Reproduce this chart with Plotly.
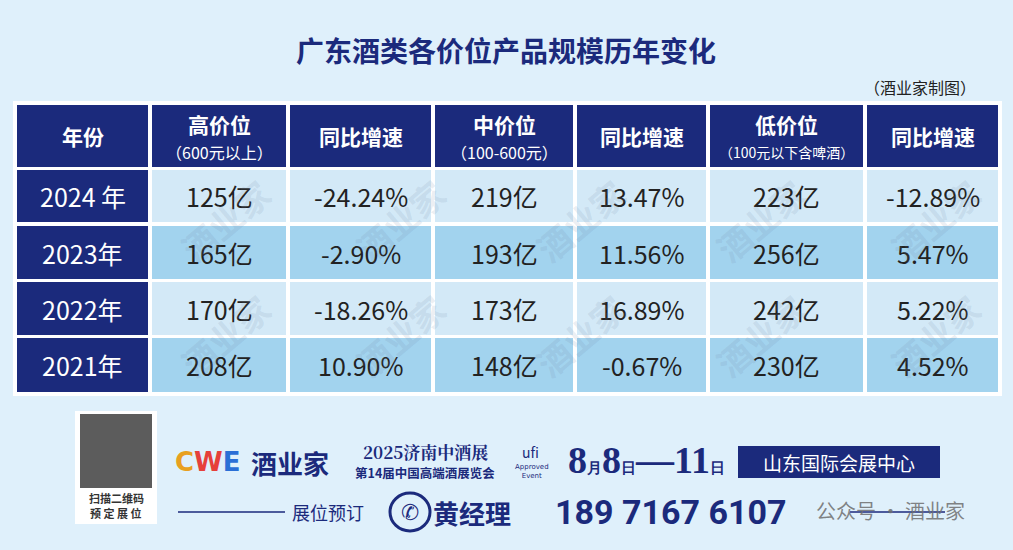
import plotly.graph_objects as go

title = "广东酒类各价位产品规模历年变化"
source = "（酒业家制图）"
headers = ["年份", "高价位", "同比增速", "中价位", "同比增速", "低价位", "同比增速"]
subheaders = ["", "（600元以上）", "", "（100-600元）", "", "（100元以下含啤酒）", ""]
years = ["2024 年", "2023年", "2022年", "2021年"]
high = ["125亿", "165亿", "170亿", "208亿"]
high_g = ["-24.24%", "-2.90%", "-18.26%", "10.90%"]
mid = ["219亿", "193亿", "173亿", "148亿"]
mid_g = ["13.47%", "11.56%", "16.89%", "-0.67%"]
low = ["223亿", "256亿", "242亿", "230亿"]
low_g = ["-12.89%", "5.47%", "5.22%", "4.52%"]

NAVY = "#1b2a7c"
BG = "#dff0fb"
LIGHT = "#d3e9f7"
DARK = "#a2d3ee"
FONT = "Noto Sans CJK SC"

col_edges = [(17, 148), (152, 286), (290, 431), (435, 573), (577, 706), (710, 863), (867, 998)]
row_edges = [(105, 167), (170, 222), (226, 279), (282, 335), (338, 392)]

shapes = []
ann = []
shapes.append(dict(type="rect", x0=13, x1=1002, y0=101, y1=396, fillcolor="white", line_width=0, layer="below"))
for ci, (x0, x1) in enumerate(col_edges):
    for ri, (y0, y1) in enumerate(row_edges):
        if ri == 0 or ci == 0:
            fill = NAVY
        else:
            fill = LIGHT if ri % 2 == 1 else DARK
        shapes.append(dict(type="rect", x0=x0, x1=x1, y0=y0, y1=y1, fillcolor=fill, line_width=0, layer="below"))

for ci, (x0, x1) in enumerate(col_edges):
    xc = (x0 + x1) / 2
    if subheaders[ci]:
        ann.append(dict(x=xc, y=124, text=f"<b>{headers[ci]}</b>", font=dict(size=21, color="white", family=FONT), showarrow=False))
        ann.append(dict(x=xc, y=152, text=subheaders[ci], font=dict(size=16 if ci != 5 else 14, color="white", family=FONT), showarrow=False))
    else:
        ann.append(dict(x=xc, y=136, text=f"<b>{headers[ci]}</b>", font=dict(size=21, color="white", family=FONT), showarrow=False))

cols = [years, high, high_g, mid, mid_g, low, low_g]
for ci, col in enumerate(cols):
    x0, x1 = col_edges[ci]
    for ri, val in enumerate(col):
        y0, y1 = row_edges[ri + 1]
        ann.append(dict(x=(x0 + x1) / 2, y=(y0 + y1) / 2, text=val, showarrow=False,
                        font=dict(size=25, color="white" if ci == 0 else "#222222", family=FONT)))

for (wx, wy) in [(225, 220), (400, 220), (580, 220), (760, 220), (935, 220), (225, 335), (400, 335), (580, 335), (760, 335), (935, 335)]:
    ann.append(dict(x=wx, y=wy, text="<b>酒业家</b>", textangle=-40, showarrow=False,
                    font=dict(size=34, color="rgba(110,130,160,0.15)", family=FONT)))

ann.append(dict(x=506, y=50, text=f"<b>{title}</b>", showarrow=False, font=dict(size=28, color=NAVY, family=FONT)))
ann.append(dict(x=978, y=87, text=source, xanchor="right", showarrow=False, font=dict(size=16, color="#222", family=FONT)))

# footer
shapes.append(dict(type="rect", x0=75, x1=157, y0=411, y1=524, fillcolor="white", line_width=0))
shapes.append(dict(type="rect", x0=80, x1=152, y0=414, y1=488, fillcolor="#333", line_width=0, opacity=0.8))
ann.append(dict(x=116, y=498, text="<b>扫描二维码</b>", showarrow=False, font=dict(size=11, color="#333", family=FONT)))
ann.append(dict(x=116, y=513, text="<b>预 定 展 位</b>", showarrow=False, font=dict(size=11, color="#333", family=FONT)))
ann.append(dict(x=208, y=462, text="<b>C<span style='color:#e6403a'>W</span><span style='color:#2a6fd6'>E</span></b>", showarrow=False, font=dict(size=26, color="#e8a020", family="DejaVu Sans")))
ann.append(dict(x=290, y=462, text="<b>酒业家</b>", showarrow=False, font=dict(size=26, color=NAVY, family=FONT)))
ann.append(dict(x=425, y=451, text="<b>2025济南中酒展</b>", showarrow=False, font=dict(size=17, color=NAVY, family="Noto Serif CJK SC, " + FONT)))
ann.append(dict(x=425, y=472, text="<b>第14届中国高端酒展览会</b>", showarrow=False, font=dict(size=12.5, color=NAVY, family=FONT)))
ann.append(dict(x=530, y=452, text="ufi", showarrow=False, font=dict(size=14, color=NAVY, family=FONT)))
ann.append(dict(x=532, y=471, text="Approved<br>Event", showarrow=False, font=dict(size=7, color=NAVY, family="DejaVu Sans")))
ann.append(dict(x=646, y=460, text="<b>8<span style='font-size:15px'>月</span>8<span style='font-size:15px'>日</span>—11<span style='font-size:15px'>日</span></b>", showarrow=False, font=dict(size=38, color=NAVY, family="Liberation Serif")))
shapes.append(dict(type="rect", x0=738, x1=940, y0=446, y1=478, fillcolor=NAVY, line_width=0))
ann.append(dict(x=839, y=462, text="山东国际会展中心", showarrow=False, font=dict(size=19, color="white", family=FONT)))
shapes.append(dict(type="line", x0=178, x1=285, y0=512, y1=512, line=dict(color=NAVY, width=1.5)))
ann.append(dict(x=328, y=512, text="展位预订", showarrow=False, font=dict(size=18, color=NAVY, family=FONT)))
shapes.append(dict(type="circle", x0=390, x1=430, y0=493, y1=531, line=dict(color=NAVY, width=3)))
ann.append(dict(x=410, y=512, text="✆", showarrow=False, font=dict(size=22, color=NAVY, family="DejaVu Sans")))
ann.append(dict(x=472, y=512, text="<b>黄经理</b>", showarrow=False, font=dict(size=26, color=NAVY, family=FONT)))
ann.append(dict(x=670, y=512, text="<b>189 7167 6107</b>", showarrow=False, font=dict(size=34, color=NAVY, family="Roboto")))
shapes.append(dict(type="line", x0=850, x1=945, y0=512, y1=512, line=dict(color=NAVY, width=1.5)))
ann.append(dict(x=890, y=510, text="公众号 · 酒业家", showarrow=False, font=dict(size=20, color="rgba(110,110,110,0.85)", family=FONT)))

fig = go.Figure()
fig.update_layout(width=1013, height=550, margin=dict(l=0, r=0, t=0, b=0),
                  paper_bgcolor=BG, plot_bgcolor=BG, shapes=shapes, annotations=ann,
                  xaxis=dict(range=[0, 1013], visible=False, fixedrange=True),
                  yaxis=dict(range=[550, 0], visible=False, fixedrange=True),
                  showlegend=False)
fig.write_html("out.html", config={"displayModeBar": False},
               post_script="document.body.style.margin='0';document.body.style.background='" + BG + "';")
